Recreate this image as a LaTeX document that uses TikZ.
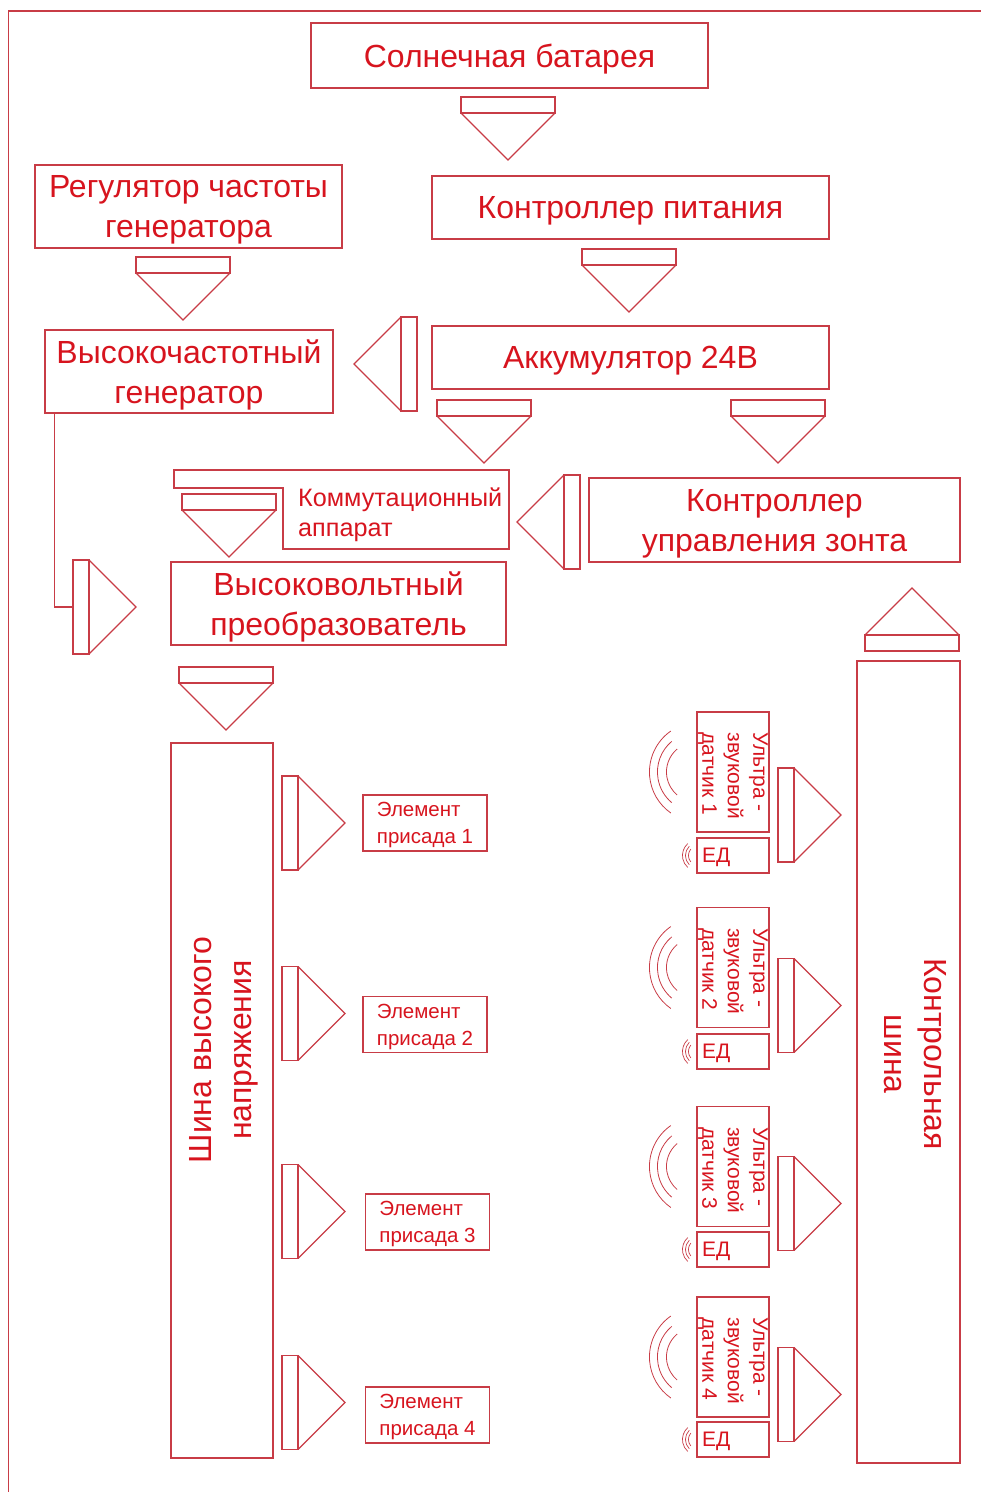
\documentclass[tikz,border=0pt]{standalone}
\usepackage{fontspec}
\setmainfont{Liberation Sans}
\usepackage{tikz}
\usetikzlibrary{positioning, calc}
\definecolor{schemered}{HTML}{D7141E}
\definecolor{wirered}{HTML}{C83C46}
\newcommand{\fbig}{\fontsize{32}{40}\selectfont}
\newcommand{\fmid}{\fontsize{25.2}{30}\selectfont}
\newcommand{\fsens}{\fontsize{21}{25.5}\selectfont}
\newcommand{\fsmall}{\fontsize{20.5}{27}\selectfont}

\begin{document}
\begin{tikzpicture}[x=1pt, y=-1pt,
    outl/.style={draw=wirered, line width=1.1pt},
    txt/.style={text=schemered, inner sep=0pt},
    block/.style={outl, txt, font=\fbig, align=center, text depth=0pt},
    sensor/.style={outl, minimum width=72pt, minimum height=120pt},
    edbox/.style={outl, txt, font=\fsens, minimum width=72pt, minimum height=35pt, text width=62pt, align=left, text depth=0pt},
    elem/.style={outl, txt, font=\fsmall, minimum width=124pt, minimum height=56pt, align=left, text depth=0pt},
    barr/.pic={
      \draw[outl] (-47,0) rectangle (47,16);
      \draw[outl] (-47,16) -- (0,63) -- (47,16);
      \coordinate (-b) at (0,0);
    },
    waves/.pic={
      \draw[outl, line width=0.8pt] (3,0) ++(125:50pt) arc[start angle=125, end angle=235, radius=50pt];
      \draw[outl, line width=0.8pt] (1,0) ++(130:40pt) arc[start angle=130, end angle=230, radius=40pt];
      \draw[outl, line width=0.8pt] (0,0) ++(130:30pt) arc[start angle=130, end angle=230, radius=30pt];
    },
    ripple/.pic={
      \draw[outl, line width=0.7pt] (2,0) ++(132:16pt) arc[start angle=132, end angle=228, radius=16pt];
      \draw[outl, line width=0.7pt] (2,0) ++(135:13pt) arc[start angle=135, end angle=225, radius=13pt];
      \draw[outl, line width=0.7pt] (2,0) ++(140:10pt) arc[start angle=140, end angle=220, radius=10pt];
    }]
  \useasboundingbox (0,0) rectangle (981,1492);
  % Frame
  \draw[outl] (8.5,1492) -- (8.5,11) -- (981,11);
  % Power supply chain
  \node[block, minimum width=397pt, minimum height=65pt] (solar) at (509.5,55.5) {Солнечная батарея};
  \pic at (508,97) {barr};
  \node[block, minimum width=397pt, minimum height=63pt] (pwrctl) at (630.5,207.5) {Контроллер питания};
  \pic at (629,249) {barr};
  \node[block, minimum width=397pt, minimum height=63pt] (accum) at (630.5,357.5) {Аккумулятор 24В};
  % Generator
  \node[block, minimum width=307pt, minimum height=83pt] (regul) at (188.5,206.5) {Регулятор частоты\\генератора};
  \pic at (183,257) {barr};
  \node[block, minimum width=288pt, minimum height=83pt] (hfgen) at (189,371.5) {Высокочастотный\\генератор};
  \pic[rotate=-90] at (417,364) {barr};
  % Switching unit (L-shaped)
  \pic at (484,400) {barr};
  \draw[outl] (174,470) -- (509,470) -- (509,549) -- (283,549) -- (283,488) -- (174,488) -- cycle;
  \node[txt, font=\fmid, anchor=west, align=left] (switch) at (298,515) {Коммутационный\\аппарат};
  \pic at (229,494) {barr};
  % Umbrella controller
  \pic at (778,400) {barr};
  \node[block, minimum width=371pt, minimum height=84pt] (umbctl) at (774.5,520) {Контроллер\\управления зонта};
  \pic[rotate=-90] at (580,522) {barr};
  % High-voltage converter
  \node[block, minimum width=335pt, minimum height=83pt] (hvconv) at (338.5,603.5) {Высоковольтный\\преобразователь};
  \pic[rotate=90] (hvin) at (73,607) {barr};
  \draw[outl] ([xshift=10pt]hfgen.south west) |- (hvin-b);
  \pic at (226,667) {barr};
  % High-voltage bus and additive elements
  \node[outl, minimum width=102pt, minimum height=715pt] (hvbus) at (222,1100.5) {};
  \node[txt, font=\fbig, rotate=90, align=center] (hvbuslbl) at (224,1050) {Шина высокого\\напряжения};
  \pic[rotate=90] at (282,823) {barr};
  \node[elem] (el1) at (425,823) {Элемент\\присада 1};
  \pic[rotate=90] at (282,1013.5) {barr};
  \node[elem] (el2) at (425,1024.5) {Элемент\\присада 2};
  \pic[rotate=90] at (282,1211.5) {barr};
  \node[elem] (el3) at (427.5,1222) {Элемент\\присада 3};
  \pic[rotate=90] at (282,1402.5) {barr};
  \node[elem] (el4) at (427.5,1415) {Элемент\\присада 4};
  % Control bus
  \node[outl, minimum width=103pt, minimum height=802pt] (ctlbus) at (908.5,1062) {};
  \node[txt, font=\fbig, rotate=-90, align=center] (ctlbuslbl) at (915,1054) {Контрольная\\шина};
  \pic[rotate=180] at (912,651) {barr};
  % Sensor 1
  \node[sensor] (s1) at (733,772) {};
  \node[txt, font=\fsens, rotate=-90, anchor=west, align=left] (s1t) at ([yshift=-21pt]s1.north) {Ультра -\\звуковой\\датчик 1};
  \node[edbox] (e1) at (733,855.5) {ЕД};
  \pic at (s1.west) {waves};
  \pic at (e1.west) {ripple};
  \pic[rotate=90] at (778,815) {barr};
  % Sensor 2
  \node[sensor] (s2) at (733,967.5) {};
  \node[txt, font=\fsens, rotate=-90, anchor=west, align=left] (s2t) at ([yshift=-21pt]s2.north) {Ультра -\\звуковой\\датчик 2};
  \node[edbox] (e2) at (733,1051.5) {ЕД};
  \pic at (s2.west) {waves};
  \pic at (e2.west) {ripple};
  \pic[rotate=90] at (778,1005.5) {barr};
  % Sensor 3
  \node[sensor] (s3) at (733,1166.5) {};
  \node[txt, font=\fsens, rotate=-90, anchor=west, align=left] (s3t) at ([yshift=-21pt]s3.north) {Ультра -\\звуковой\\датчик 3};
  \node[edbox] (e3) at (733,1249.5) {ЕД};
  \pic at (s3.west) {waves};
  \pic at (e3.west) {ripple};
  \pic[rotate=90] at (778,1203.5) {barr};
  % Sensor 4
  \node[sensor] (s4) at (733,1357) {};
  \node[txt, font=\fsens, rotate=-90, anchor=west, align=left] (s4t) at ([yshift=-21pt]s4.north) {Ультра -\\звуковой\\датчик 4};
  \node[edbox] (e4) at (733,1439.5) {ЕД};
  \pic at (s4.west) {waves};
  \pic at (e4.west) {ripple};
  \pic[rotate=90] at (778,1394.5) {barr};
\end{tikzpicture}
\end{document}
